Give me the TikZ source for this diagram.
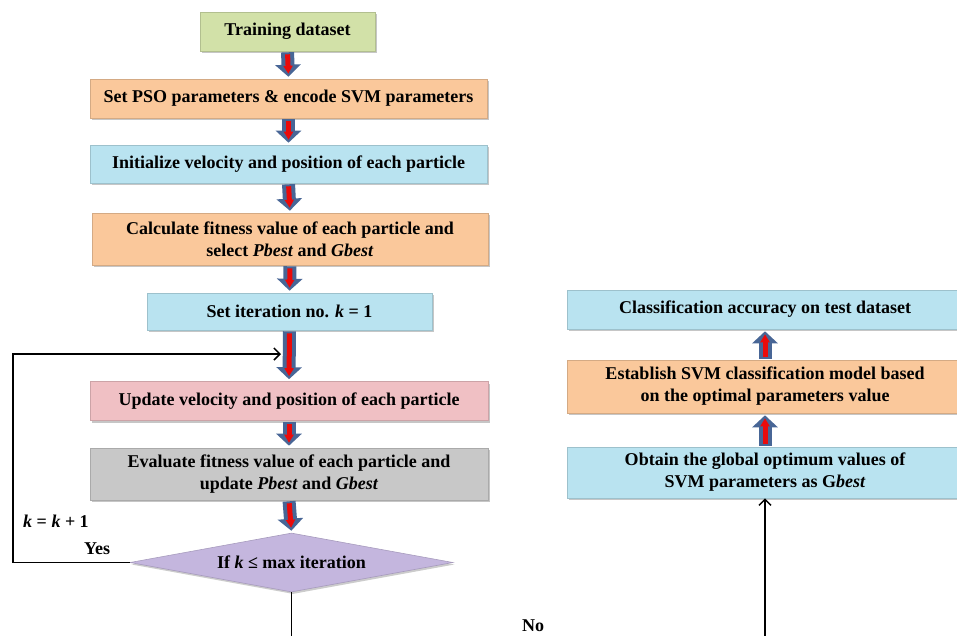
\documentclass[tikz,border=0pt]{standalone}
\usepackage{fontspec}
\setmainfont{Liberation Serif}
\usetikzlibrary{shapes.geometric,shadows,arrows.meta}
\definecolor{cgreen}{RGB}{210,225,168}
\definecolor{corange}{RGB}{250,200,155}
\definecolor{cblue}{RGB}{185,227,240}
\definecolor{cpink}{RGB}{240,192,196}
\definecolor{cgray}{RGB}{200,200,200}
\definecolor{cpurple}{RGB}{196,182,222}
\definecolor{cblk}{RGB}{72,102,150}
\definecolor{cred}{RGB}{235,10,10}
\newcommand\blockarrow[2]{\draw[blk] (#1) -- (#2); \draw[blkin] (#1) -- (#2);}
\begin{document}
\begin{tikzpicture}[x=1pt,y=-1pt,
  font=\fontsize{18}{22}\selectfont\bfseries,
  box/.style={rectangle, inner sep=0pt, align=center, draw=#1!85!black, line width=0.6pt, fill=#1,
    drop shadow={shadow xshift=1.5pt, shadow yshift=-2pt, opacity=0.45}},
  dec/.style={diamond, inner sep=0pt, aspect=5.47, fill=cpurple, draw=cpurple!85!black, line width=0.6pt,
    minimum width=323pt, minimum height=59pt,
    drop shadow={shadow xshift=1.5pt, shadow yshift=-2pt, opacity=0.4}},
  blk/.style={draw=cblk, line width=13pt, -{Triangle[length=12pt,width=25pt]}, shorten <=1pt, shorten >=2pt},
  blkin/.style={draw=cred, line width=5pt, -{Triangle[length=8pt,width=9pt]}, shorten <=3pt, shorten >=5pt},
  conn/.style={draw=black, line width=1.5pt},
  lbl/.style={inner sep=0pt}
]
\useasboundingbox (0,0) rectangle (957,635);
% left column
\node[box=cgreen, minimum width=175pt, minimum height=39pt] (train) at (287.5,31.5) {Training dataset};
\node[box=corange, minimum width=397pt, minimum height=39pt] (pso) at (288.5,98.5) {Set PSO parameters \& encode SVM parameters};
\node[box=cblue, minimum width=397pt, minimum height=38pt] (init) at (288.5,164) {Initialize velocity and position of each particle};
\node[box=corange, minimum width=396pt, minimum height=52pt] (calc) at (290,239) {Calculate fitness value of each particle and\\select \textit{Pbest} and \textit{Gbest}};
\node[box=cblue, minimum width=285pt, minimum height=37pt] (iter) at (289.5,311.5) {Set iteration no. \textit{k} = 1};
\node[box=cpink, minimum width=398pt, minimum height=39pt] (upd) at (289,401) {Update velocity and position of each particle};
\node[box=cgray, minimum width=398pt, minimum height=52pt] (eval) at (289,474) {Evaluate fitness value of each particle and\\update \textit{Pbest} and \textit{Gbest}};
\node[dec] (dia) at (291.5,562.5) {If \textit{k} ≤ max iteration};
% right column
\node[box=cblue, minimum width=396pt, minimum height=39pt] (acc) at (765,309.5) {Classification accuracy on test dataset};
\node[box=corange, minimum width=396pt, minimum height=53pt] (svm) at (765,386.5) {Establish SVM classification model based\\on the optimal parameters value};
\node[box=cblue, minimum width=396pt, minimum height=51pt] (opt) at (765,472.5) {Obtain the global optimum values of\\SVM parameters as G\textit{best}};
% block arrows
\blockarrow{train.south}{pso.north}
\blockarrow{pso.south}{init.north}
\blockarrow{init.south}{calc.north}
\blockarrow{calc.south}{iter.north}
\blockarrow{iter.south}{upd.north}
\blockarrow{upd.south}{eval.north}
\blockarrow{eval.south}{dia.north}
\blockarrow{opt.north}{svm.south}
\blockarrow{svm.north}{acc.south}
% loop and exits
\coordinate (loopin) at (281,354);
\coordinate (lbot) at (dia.south |- 0,640);
\coordinate (rbot) at (opt.south |- 0,640);
\draw[conn, -{Straight Barb[length=6pt,width=12pt]}] (dia.west) -| (13,354) -- (loopin);
\draw[conn] (dia.south) -- (lbot);
\draw[conn, -{Straight Barb[length=6pt,width=12pt]}] (rbot) -- (opt.south);
% labels
\node[lbl] (kk) at (56,521) {\textit{k} = \textit{k} + 1};
\node[lbl] (yes) at (97,549) {Yes};
\node[lbl] (no) at (533,626) {No};
\end{tikzpicture}
\end{document}
